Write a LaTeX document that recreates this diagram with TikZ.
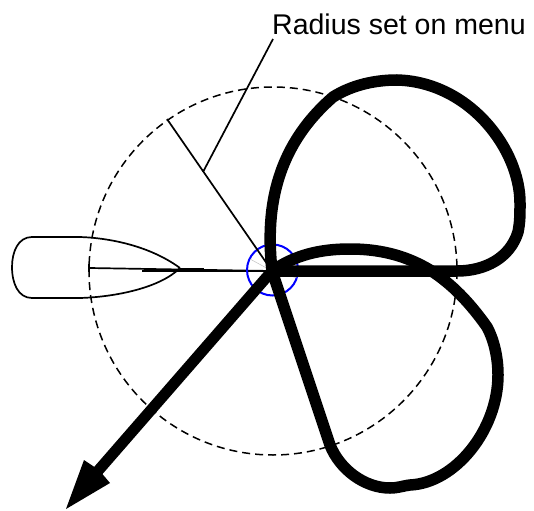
\documentclass[tikz,border=0pt]{standalone}
\usepackage{fontspec}
\setmainfont{Liberation Sans}
\tikzset{
 thin line/.style={line width=1.7pt,black},
 track/.style={line width=11.5pt,black,line join=round},
 radius ring/.style={line width=1.5pt,dash pattern=on 8pt off 5pt},
}
\begin{document}
\begin{tikzpicture}[x=1pt,y=-1pt]
\useasboundingbox (0,0) rectangle (534,510);
\coordinate (o) at (272,271);
\coordinate (rim) at (167,119);
\coordinate (lead) at (273,39);
\coordinate (leadend) at (203,172);
\coordinate (stern) at (89,268);
\coordinate (bow) at (180,268);
\coordinate (tip) at (66,509);
% ring
\draw[radius ring] (273,271) circle (184);
% boat
\draw[thin line] (bow) .. controls (150,246) and (110,238) .. (80,237) -- (32,237)
  .. controls (18,237) and (12,252) .. (12,267) .. controls (12,283) and (18,298) .. (32,298)
  -- (80,298) .. controls (115,297) and (160,288) .. (bow);
\draw[thin line] (stern) -- (o);
\draw[line width=1.4pt] (142,271) -- (o);
\draw[line width=1.2pt] (89,264) -- (89,272);
\fill (180,267.5) rectangle (204,270.5);
\fill (204,269.5) rectangle (230,272);
% blue
\draw[blue,line width=2pt] (272.5,270) circle (25.5);
\draw[gray!50,line width=.5pt] (250,259) -- (o) -- (297,278);
% radius and leader
\draw[thin line] (rim) -- (o);
\draw[thin line] (lead) -- (leadend);
% track
\draw[track] (o) .. controls (266,215) and (272,150) .. (333,97)
  .. controls (352,85) and (375,80) .. (397,80)
  .. controls (470,82) and (520,150) .. (520,203)
  .. controls (520,215) and (520,222) .. (518,232)
  .. controls (510,258) and (485,271) .. (457,271) -- (o);
\draw[track] (o) .. controls (295,255) and (320,249) .. (350,249)
  .. controls (385,249) and (410,258) .. (430,270)
  .. controls (452,284) and (470,303) .. (487,327)
  .. controls (495,342) and (498,360) .. (498,375)
  .. controls (498,430) and (455,483) .. (410,485)
  .. controls (402,486) and (398,488) .. (390,488)
  .. controls (365,488) and (340,470) .. (330,445) -- (o);
% course arrow
\draw[line width=11pt] (o) -- (97,472);
\fill (tip) -- (84,460) -- (99,470) -- (110,483) -- cycle;
\node[inner sep=0pt,anchor=base west,font=\fontsize{28.5}{32}\selectfont] (label) at (272,35) {Radius set on menu};
\end{tikzpicture}
\end{document}
